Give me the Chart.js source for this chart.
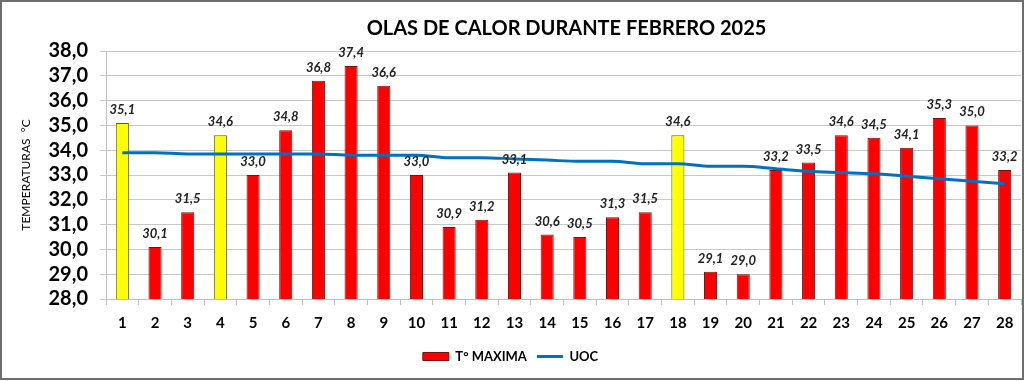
<!DOCTYPE html>
<html>
<head>
<meta charset="utf-8">
<script src="https://cdn.jsdelivr.net/npm/chart.js@4.4.1/dist/chart.umd.min.js"></script>
<style>
html,body{margin:0;padding:0;background:#fff;}
#wrap{width:1024px;height:381px;}
</style>
</head>
<body>
<div id="wrap"><canvas id="c" width="1024" height="381"></canvas></div>
<script>
const chartTitle = 'OLAS DE CALOR DURANTE FEBRERO 2025';
const days = ['1','2','3','4','5','6','7','8','9','10','11','12','13','14','15','16','17','18','19','20','21','22','23','24','25','26','27','28'];
const tMax = [35.1,30.1,31.5,34.6,33.0,34.8,36.8,37.4,36.6,33.0,30.9,31.2,33.1,30.6,30.5,31.3,31.5,34.6,29.1,29.0,33.2,33.5,34.6,34.5,34.1,35.3,35.0,33.2];
const heatWaveDays = ['1','4','18'];
const uoc = [33.9,33.9,33.85,33.85,33.85,33.85,33.85,33.8,33.8,33.8,33.7,33.7,33.65,33.6,33.55,33.55,33.45,33.45,33.35,33.35,33.25,33.15,33.1,33.05,32.95,32.85,32.75,32.65];

const fmt = v => v.toFixed(1).replace('.', ',');
const FONT = 'Lato, "Open Sans", sans-serif';

const barFill = days.map(d => heatWaveDays.includes(d) ? '#FFFF00' : '#FF0000');
const barBorder = days.map(d => heatWaveDays.includes(d) ? '#5f5f1a' : '#7a1010');

const frame = {
  id: 'frame',
  beforeDraw(chart) {
    const ctx = chart.ctx;
    ctx.save();
    ctx.fillStyle = '#fff';
    ctx.fillRect(0, 0, chart.width, chart.height);
    ctx.restore();
  },
  afterDraw(chart) {
    const ctx = chart.ctx;
    const a = chart.chartArea;
    ctx.save();
    ctx.font = 'bold 20px ' + FONT;
    ctx.fillStyle = '#000';
    ctx.textAlign = 'center';
    ctx.textBaseline = 'alphabetic';
    ctx.fillText(chartTitle, (a.left + a.right) / 2 + 3, 35);
    ctx.strokeStyle = '#6e6e6e';
    ctx.lineWidth = 2;
    ctx.strokeRect(1, 1, chart.width - 2, chart.height - 3);
    ctx.restore();
  }
};

const valueLabels = {
  id: 'valueLabels',
  afterDatasetsDraw(chart) {
    const ctx = chart.ctx;
    const meta = chart.getDatasetMeta(0);
    ctx.save();
    ctx.font = 'italic bold 13px ' + FONT;
    ctx.fillStyle = '#222';
    ctx.textAlign = 'center';
    ctx.textBaseline = 'alphabetic';
    meta.data.forEach((el, i) => {
      ctx.fillText(fmt(tMax[i]), el.x, el.y - 9);
    });
    ctx.restore();
  }
};

new Chart(document.getElementById('c'), {
  data: {
    labels: days,
    datasets: [
      {
        type: 'bar',
        label: 'T° MAXIMA',
        data: tMax,
        backgroundColor: barFill,
        borderColor: barBorder,
        borderWidth: 1,
        barPercentage: 0.4,
        categoryPercentage: 1.0,
        order: 1
      },
      {
        type: 'line',
        label: 'UOC',
        data: uoc,
        borderColor: '#0070C0',
        backgroundColor: '#0070C0',
        borderWidth: 3,
        pointRadius: 0,
        cubicInterpolationMode: 'monotone',
        order: 0
      }
    ]
  },
  options: {
    responsive: false,
    animation: false,
    layout: { padding: { top: 51, bottom: 8, left: 0, right: 3 } },
    plugins: {
      tooltip: { enabled: false },
      title: { display: false },
      legend: {
        position: 'bottom',
        labels: {
          color: '#000',
          font: { family: FONT, size: 13, weight: 'bold' },
          usePointStyle: true,
          pointStyleWidth: 26,
          boxHeight: 8,
          padding: 10,
          generateLabels(chart) {
            return [
              { text: 'T° MAXIMA', fillStyle: '#FF0000', strokeStyle: '#7a1010', lineWidth: 1, pointStyle: 'rect', datasetIndex: 0, fontColor: '#000' },
              { text: 'UOC', fillStyle: '#0070C0', strokeStyle: '#0070C0', lineWidth: 3, pointStyle: 'line', datasetIndex: 1, fontColor: '#000' }
            ];
          }
        }
      }
    },
    scales: {
      x: {
        grid: { offset: true, drawOnChartArea: false, tickLength: 6, color: '#bfbfbf' },
        border: { color: '#bfbfbf' },
        ticks: { color: '#000', font: { family: FONT, size: 15, weight: 'bold' }, padding: 9, maxRotation: 0, autoSkip: false },
        afterFit(s) { s.height = 41; }
      },
      y: {
        min: 28,
        max: 38,
        grid: { color: '#c8c8c8', tickLength: 6 },
        border: { color: '#bfbfbf' },
        ticks: { stepSize: 1, autoSkip: false, color: '#000', font: { family: FONT, size: 20, weight: 'bold' }, padding: 12, callback: v => fmt(v) },
        title: { display: true, text: 'TEMPERATURAS  °C', color: '#000', font: { family: FONT, size: 12 }, padding: { top: 19, bottom: 0 } },
        afterFit(s) { s.width = 106; }
      }
    }
  },
  plugins: [frame, valueLabels]
});
</script>
</body>
</html>
